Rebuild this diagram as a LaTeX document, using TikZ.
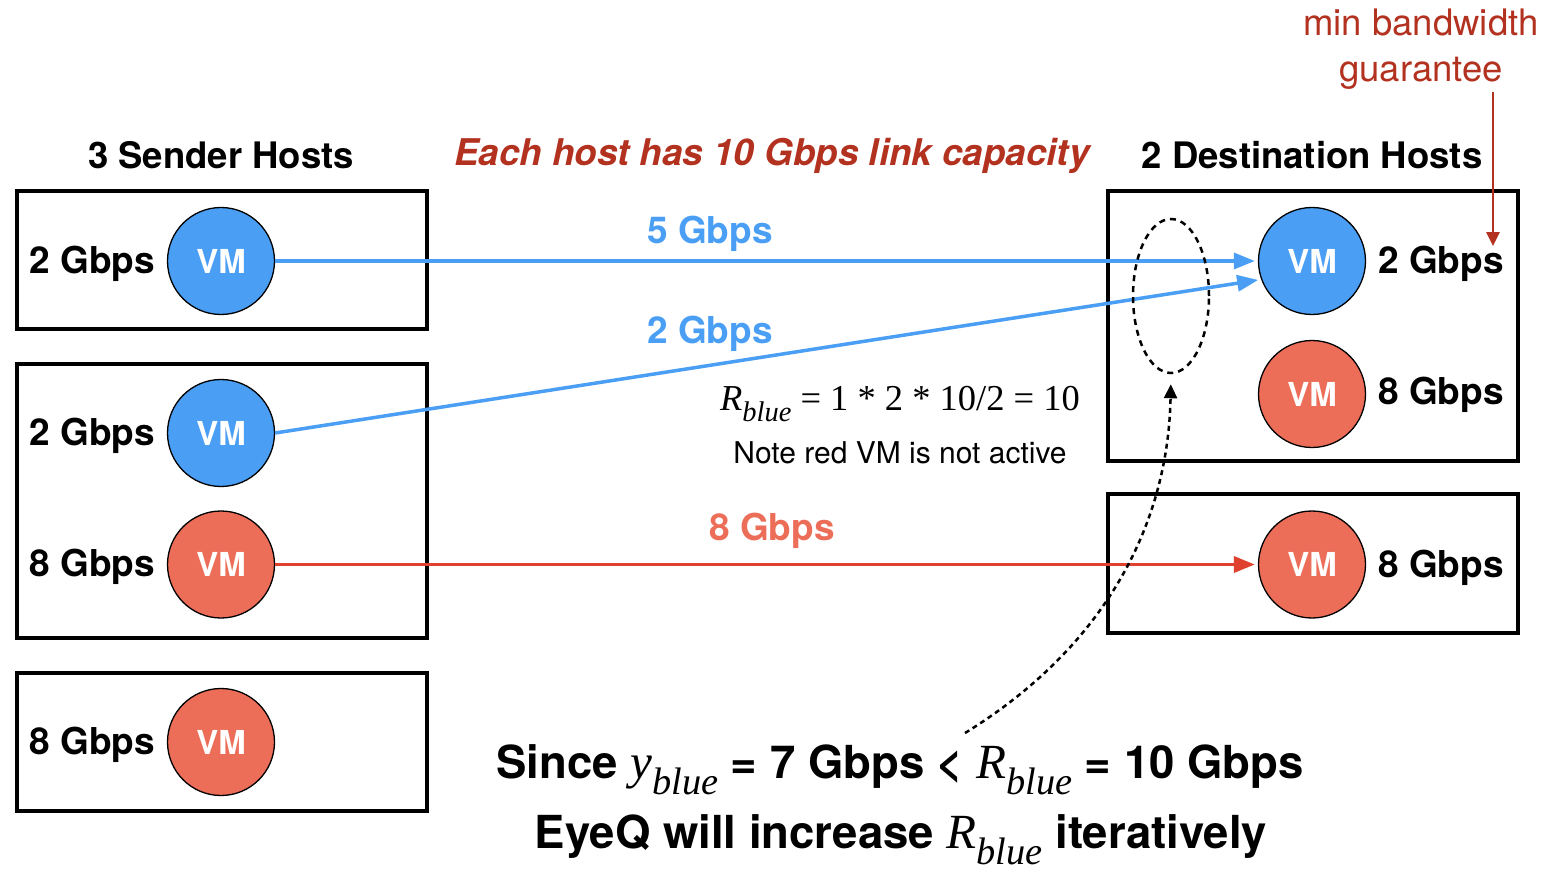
\documentclass[tikz,border=0pt]{standalone}
\usepackage[no-math]{fontspec}
\setmainfont{TeX Gyre Heros}
\newfontfamily\tms{Liberation Serif}
\usetikzlibrary{arrows.meta,shapes.geometric}
\definecolor{vmblue}{HTML}{4A9FF5}
\definecolor{vmred}{HTML}{EC6E58}
\definecolor{linered}{HTML}{E0412E}
\definecolor{darkred}{HTML}{B3311F}
\newcommand\mysub[1]{\raisebox{-0.32em}{\scalebox{0.78}{#1}}}
\newcommand\mvar[2]{{\tms\mdseries\itshape #1\mysub{#2}}}
\newcommand\bigvar[2]{\scalebox{1.08}{\mvar{#1}{#2}}}
\tikzset{
  hostbox/.style={draw, line width=4pt, inner sep=0pt},
  vm/.style={circle, draw, line width=1.3pt, minimum size=107pt, inner sep=0pt,
    text=white, font=\fontsize{33}{38}\selectfont\bfseries},
  bluevm/.style={vm, fill=vmblue},
  redvm/.style={vm, fill=vmred},
  rate/.style={inner sep=0pt, font=\fontsize{37}{42}\selectfont\bfseries},
  hdr/.style={inner sep=0pt, font=\fontsize{36.5}{42}\selectfont\bfseries},
  flow/.style={line width=3.5pt, -{Triangle[length=21pt,width=16pt]}, shorten >=3pt},
  bottomtxt/.style={inner sep=0pt, font=\fontsize{45.5}{54}\selectfont\bfseries},
}
\begin{document}
\begin{tikzpicture}[x=1pt,y=-1pt]
\useasboundingbox (0,0) rectangle (1550,882);
% sender boxes
\node[hostbox, minimum width=410pt, minimum height=138pt] (s1) at (222,260) {};
\node[hostbox, minimum width=410pt, minimum height=274pt] (s2) at (222,501) {};
\node[hostbox, minimum width=410pt, minimum height=138pt] (s3) at (222,742) {};
% destination boxes
\node[hostbox, minimum width=410pt, minimum height=270pt] (d1) at (1313,326) {};
\node[hostbox, minimum width=410pt, minimum height=139pt] (d2) at (1313,563.5) {};
% headers
\node[hdr] (hs) at (221,155) {3 Sender Hosts};
\node[hdr, text=darkred, font=\fontsize{36.8}{42}\selectfont\bfseries\itshape] (hc) at (772,156) {Each host has 10 Gbps link capacity};
\node[hdr] (hd) at (1312,155) {2 Destination Hosts};
\node[inner sep=0pt, text=darkred, align=center, font=\fontsize{36.5}{46}\selectfont] (mb) at (1421,49) {min bandwidth\\guarantee};
% sender VMs
\node[bluevm] (sv1) at (221,261) {VM};
\node[bluevm] (sv2) at (221,433) {VM};
\node[redvm] (sv3) at (221,564.5) {VM};
\node[redvm] (sv4) at (221,742) {VM};
\node[rate, anchor=east] (sl1) at (155,264) {2 Gbps};
\node[rate, anchor=east] (sl2) at (155,436) {2 Gbps};
\node[rate, anchor=east] (sl3) at (155,567) {8 Gbps};
\node[rate, anchor=east] (sl4) at (155,745) {8 Gbps};
% destination VMs
\node[bluevm] (dv1) at (1312,261) {VM};
\node[redvm] (dv2) at (1312,394) {VM};
\node[redvm] (dv3) at (1312,564.5) {VM};
\node[rate, anchor=west] (dl1) at (1378,264) {2 Gbps};
\node[rate, anchor=west] (dl2) at (1378,395) {8 Gbps};
\node[rate, anchor=west] (dl3) at (1378,568) {8 Gbps};
% flows
\draw[flow, vmblue] (sv1.east) -- (dv1.west);
\draw[flow, vmblue] (sv2.east) -- (dv1.200);
\draw[flow, linered] (sv3.east) -- (dv3.west);
\node[rate, text=vmblue] (f1) at (710,234) {5 Gbps};
\node[rate, text=vmblue] (f2) at (710,334) {2 Gbps};
\node[rate, text=vmred] (f3) at (772,531) {8 Gbps};
% ellipse
\node[ellipse, draw, dash pattern=on 6pt off 5pt, line width=2.5pt, minimum width=76pt, minimum height=154pt] (el) at (1171,296) {};
% annotation arrow
\coordinate (mbs) at (1493,92);
\draw[darkred, line width=2.5pt, -{Triangle[length=14pt,width=13pt]}] (mbs) -- (mbs |- dl1.north);
% formula and note
\node[inner sep=0pt, font=\fontsize{36.5}{40}\selectfont\tms] (rb) at (900,404) {\mvar{R}{blue} = 1 * 2 * 10/2 = 10};
\node[inner sep=0pt, font=\fontsize{30}{34}\selectfont] (note) at (900,453) {Note red VM is not active};
% bottom
\node[bottomtxt] (b1) at (900,770) {Since \bigvar{y}{blue} = 7 Gbps < \bigvar{R}{blue} = 10 Gbps};
\node[bottomtxt] (b2) at (901,840) {EyeQ will increase \bigvar{R}{blue} iteratively};
\coordinate (ds) at (965,733);
\draw[line width=2.5pt, dash pattern=on 5pt off 4pt, -{Triangle[length=14pt,width=13pt]}, shorten >=10pt] (ds) .. controls (1100,650) and (1168,530) .. (el.south);
\end{tikzpicture}
\end{document}
